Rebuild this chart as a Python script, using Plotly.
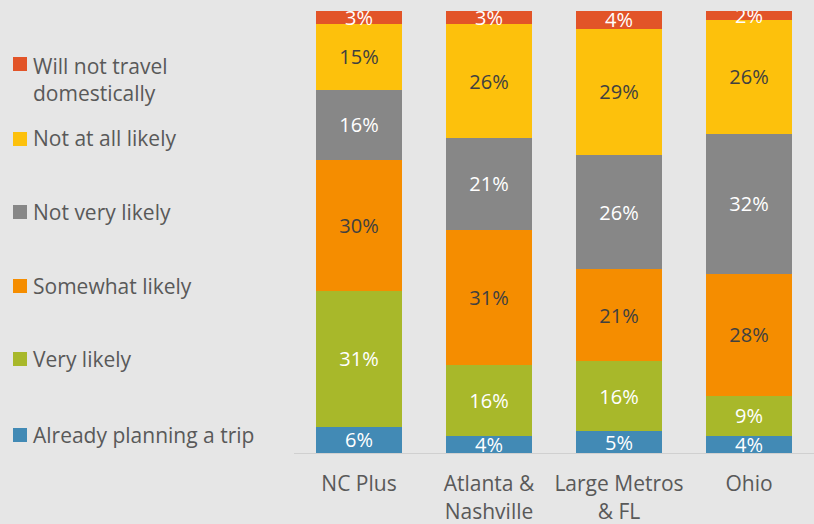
import plotly.graph_objects as go

# Survey regions (x axis)
regions = ["NC Plus", "Atlanta &<br>Nashville", "Large Metros<br>& FL", "Ohio"]

# Response shares (%) per region, bottom-to-top stacking order
already_planning = [6, 4, 5, 4]
very_likely = [31, 16, 16, 9]
somewhat_likely = [30, 31, 21, 28]
not_very_likely = [16, 21, 26, 32]
not_at_all_likely = [15, 26, 29, 26]
will_not_travel = [3, 3, 4, 2]

series = [
    ("Already planning a trip", already_planning, "#428ab5", "white"),
    ("Very likely", very_likely, "#a8b82a", "white"),
    ("Somewhat likely", somewhat_likely, "#f58d00", "#404040"),
    ("Not very likely", not_very_likely, "#878787", "white"),
    ("Not at all likely", not_at_all_likely, "#fdc10c", "#404040"),
    ("Will not travel<br>domestically", will_not_travel, "#e25428", "white"),
]

W, H = 814, 524
PLOT_TOP, PLOT_BOTTOM = 11, 453
PLOT_LEFT = 294
PLOT_W = W - PLOT_LEFT
PLOT_H = PLOT_BOTTOM - PLOT_TOP

# legend layout in pixels: swatch box, text start and entry centres
SWATCH_X0, SWATCH_SIZE, TEXT_X = 13, 14, 31
legend_text_y_px = [435, 359, 286, 212, 138, 79]
legend_swatch_y_px = [435, 359, 286, 212, 139, 64]


def px_x(px):
    return (px - PLOT_LEFT) / PLOT_W


def px_y(py):
    return (PLOT_BOTTOM - py) / PLOT_H


fig = go.Figure()
shapes, annotations = [], []
for (name, vals, color, txtcolor), ty, sy in zip(series, legend_text_y_px, legend_swatch_y_px):
    fig.add_trace(go.Bar(
        name=name,
        x=regions,
        y=vals,
        marker=dict(color=color, line=dict(width=0)),
        text=[f"{v}%" for v in vals],
        texttemplate="%{text}",
        textposition="inside",
        insidetextanchor="middle",
        textangle=0,
        constraintext="none",
        textfont=dict(color=txtcolor, size=20, family="Open Sans"),
        width=0.66,
        hoverinfo="skip",
    ))
    shapes.append(dict(
        type="rect", xref="paper", yref="paper",
        x0=px_x(SWATCH_X0), x1=px_x(SWATCH_X0 + SWATCH_SIZE),
        y0=px_y(sy + SWATCH_SIZE / 2), y1=px_y(sy - SWATCH_SIZE / 2),
        fillcolor=color, line=dict(width=0),
    ))
    annotations.append(dict(
        text=name, xref="paper", yref="paper",
        x=px_x(TEXT_X), y=px_y(ty),
        xanchor="left", yanchor="middle", align="left",
        showarrow=False,
        font=dict(size=21, color="#595959", family="Open Sans"),
    ))

fig.update_layout(
    width=W,
    height=H,
    barmode="stack",
    barnorm="percent",
    paper_bgcolor="#e6e6e6",
    plot_bgcolor="#e6e6e6",
    margin=dict(l=PLOT_LEFT, r=0, t=PLOT_TOP, b=H - PLOT_BOTTOM, autoexpand=False),
    bargap=0.34,
    showlegend=False,
    font=dict(family="Open Sans", color="#595959"),
    shapes=shapes,
    annotations=annotations,
    xaxis=dict(
        showline=True,
        linecolor="#d0d0d0",
        linewidth=1,
        ticks="",
        automargin=False,
        ticklabelstandoff=12,
        tickfont=dict(size=21, color="#595959", family="Open Sans"),
        showgrid=False,
    ),
    yaxis=dict(
        range=[0, 100],
        visible=False,
        showgrid=False,
        zeroline=False,
        automargin=False,
    ),
)

fig.write_html("out.html")
